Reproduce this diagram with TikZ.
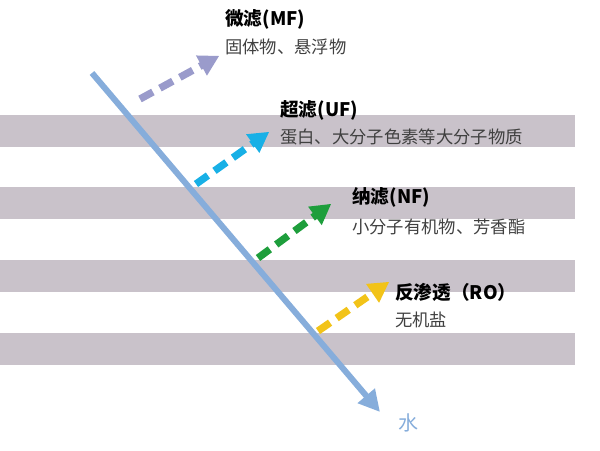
\documentclass[tikz,border=0pt]{standalone}
\usepackage{fontspec}
\setmainfont{Noto Sans CJK SC}
\usetikzlibrary{arrows.meta,calc}
\definecolor{bandgray}{HTML}{C9C2CA}
\definecolor{waterblue}{HTML}{86ADDB}
\definecolor{mfcol}{HTML}{9A9BCB}
\definecolor{ufcol}{HTML}{18B0E6}
\definecolor{nfcol}{HTML}{1E9E3C}
\definecolor{rocol}{HTML}{F2C318}
\tikzset{
  band/.style={fill=bandgray, draw=none},
  flow/.style={line width=5.5pt, dash pattern=on 11pt off 6pt, shorten >=12pt},
  head/.style={line width=1pt, -{Triangle[length=15pt,width=17pt]}},
  title/.style={anchor=west, font=\fontsize{14}{16}\selectfont\bfseries, inner sep=0pt},
  sub/.style={anchor=west, font=\fontsize{13}{15}\selectfont, text=black!75, inner sep=0pt}
}
\begin{document}
\begin{tikzpicture}[x=0.75pt, y=-0.75pt]
    \useasboundingbox (0,0) rectangle (600,450);

    % Membranes
    \foreach \top in {115,187,260,333}
        \fill[band] (0,\top) rectangle (575,\top+32);

    % Water path
    \coordinate (in) at (92,73);
    \coordinate (out) at (380,412);
    \draw[line width=4.5pt, waterblue, -{Triangle[length=16pt,width=16pt]}] (in) -- (out);
    \node[anchor=west, text=waterblue, font=\fontsize{15}{17}\selectfont, inner sep=0pt] (water) at (398,423) {水};

    % Labels
    \node[title] (mf) at (225,19) {微滤(MF)};
    \node[sub] (mfsub) at (225,47) {固体物、悬浮物};
    \node[title] (uf) at (280,110) {超滤(UF)};
    \node[sub] (ufsub) at (280,137) {蛋白、大分子色素等大分子物质};
    \node[title] (nf) at (352,197) {纳滤(NF)};
    \node[sub] (nfsub) at (352,227) {小分子有机物、芳香酯};
    \node[title] (ro) at (395,292) {反渗透（RO）};
    \node[sub] (rosub) at (395,320) {无机盐};

    % Rejected parts
    \coordinate (mfa) at (140,99);   \coordinate (mfb) at (219,56);
    \coordinate (ufa) at (196,184);  \coordinate (ufb) at (269,132);
    \coordinate (nfa) at (258,258);  \coordinate (nfb) at (331,204);
    \coordinate (roa) at (318,331);  \coordinate (rob) at (389,282);
    \foreach \a/\b/\c in {mfa/mfb/mfcol, ufa/ufb/ufcol, nfa/nfb/nfcol, roa/rob/rocol} {
        \draw[flow, \c] (\a) -- (\b);
        \draw[head, \c] ($(\b)!12pt!(\a)$) -- (\b);
    }
\end{tikzpicture}
\end{document}
